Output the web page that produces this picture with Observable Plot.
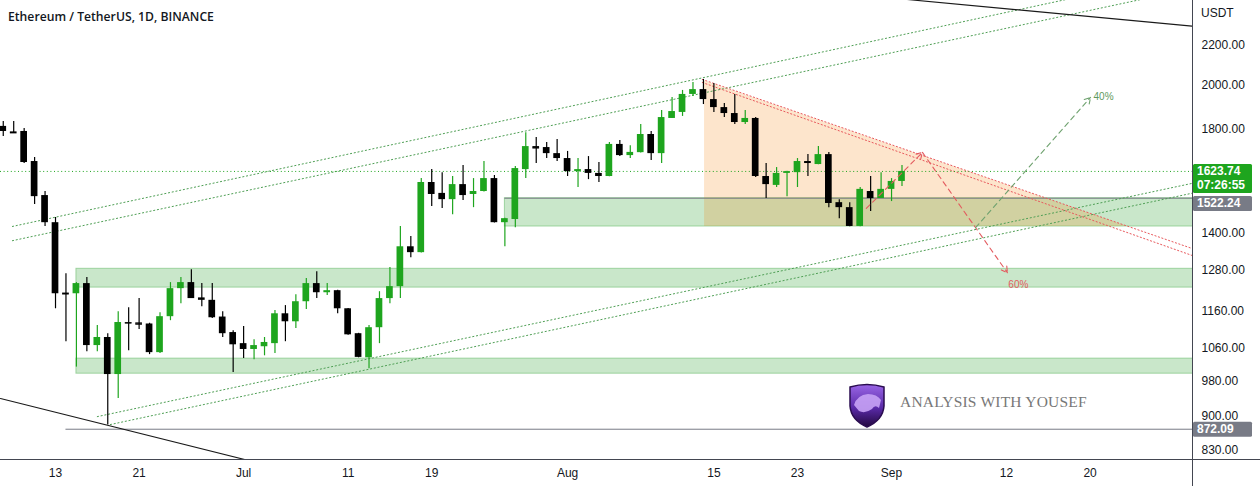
<!DOCTYPE html>
<html><head><meta charset="utf-8">
<script src="https://cdn.jsdelivr.net/npm/d3@7"></script>
<script src="https://cdn.jsdelivr.net/npm/@observablehq/plot@0.6"></script>
<style>
body{margin:0;background:#fff;}
#wrap{position:relative;width:1260px;height:486px;overflow:hidden;}
#title{position:absolute;left:8px;top:8px;font:600 12.2px "Open Sans",sans-serif;color:#131722;white-space:nowrap;}
#unit{position:absolute;left:1201px;top:6px;font:12px "Liberation Sans",Arial,sans-serif;color:#131722;}
#logo{position:absolute;left:847px;top:382px;}
#logotext{position:absolute;left:900px;top:393px;font:15.5px "Liberation Serif",serif;color:#777;white-space:nowrap;letter-spacing:0.2px;}
</style></head>
<body><div id="wrap"><div id="chart"></div>
<div id="title">Ethereum / TetherUS, 1D, BINANCE</div>
<div id="unit">USDT</div>
<div id="logo"><svg width="40" height="46" viewBox="0 0 40 46">
<defs><linearGradient id="lg" x1="0" y1="0" x2="0" y2="1"><stop offset="0" stop-color="#9a66e6"/><stop offset="0.55" stop-color="#5a2aa8"/><stop offset="1" stop-color="#22083f"/></linearGradient></defs>
<path d="M3 5 Q20 0 37 5 L37 24 Q36 38 20 45 Q4 38 3 24 Z" fill="url(#lg)" stroke="#2a0c50" stroke-width="1.5"/>
<path d="M7 23 Q10 13 21 12 Q30 12 34 18 L32 26 Q28 22 25 27 Q18 32 12 29 Z" fill="#c7a2f5" opacity="0.9"/>
</svg></div>
<div id="logotext">ANALYSIS WITH YOUSEF</div>
</div>
<script>
// ---- candle data (daily, starting date) ----
const startDate = "2022-06-08";
const opens  = [1810,1786,1788,1663,1532,1435,1211,1209,1239,1067,1088,995,1128,1127,1124,1049,1144,1224,1242,1197,1190,1143,1101,1072,1057,1064,1072,1152,1130,1186,1239,1212,1218,1166,1098,1036,1114,1195,1230,1354,1335,1581,1540,1517,1573,1536,1547,1596,1435,1446,1631,1724,1720,1695,1675,1623,1631,1616,1604,1733,1687,1699,1775,1695,1845,1872,1955,1978,1931,1894,1867,1827,1845,1604,1570,1616,1619,1663,1651,1691,1506,1488,1422,1547,1521,1555,1585];
const highs  = [1831,1831,1801,1679,1547,1453,1269,1242,1257,1120,1098,1158,1169,1195,1126,1155,1242,1257,1281,1239,1239,1158,1106,1117,1082,1088,1161,1175,1206,1254,1275,1239,1219,1167,1099,1120,1215,1288,1422,1388,1596,1631,1619,1604,1647,1596,1663,1608,1450,1643,1783,1762,1741,1754,1704,1675,1683,1659,1741,1749,1728,1818,1788,1881,1941,1974,2012,2027,2007,1913,1955,1881,1849,1655,1639,1624,1675,1691,1724,1700,1517,1506,1562,1604,1619,1596,1647];
const lows   = [1766,1779,1655,1499,1422,1166,1077,1013,1051,1051,881,939,1054,1109,1044,1047,1133,1180,1195,1172,1139,1088,1000,1034,1031,1041,1047,1077,1112,1164,1195,1204,1152,1094,1036,1009,1072,1180,1195,1319,1334,1492,1485,1463,1514,1488,1545,1434,1354,1418,1596,1655,1675,1663,1604,1562,1592,1581,1603,1683,1675,1698,1667,1655,1845,1854,1945,1908,1872,1849,1818,1818,1600,1521,1562,1528,1562,1604,1650,1488,1449,1421,1421,1474,1521,1510,1566];
const closes = [1788,1783,1659,1528,1435,1209,1209,1239,1067,1088,995,1128,1127,1124,1049,1144,1224,1242,1195,1190,1141,1098,1069,1057,1067,1075,1152,1130,1186,1239,1212,1218,1166,1095,1037,1114,1195,1230,1354,1335,1581,1536,1517,1573,1532,1547,1596,1435,1449,1635,1724,1719,1695,1675,1623,1631,1616,1604,1733,1687,1700,1775,1695,1849,1876,1955,1978,1931,1894,1867,1827,1845,1604,1573,1616,1623,1663,1655,1691,1503,1488,1422,1555,1521,1555,1585,1623.74];

// ---- axes ----
const xTickDates  = ["2022-06-13","2022-06-21","2022-07-01","2022-07-11","2022-07-19","2022-08-01","2022-08-15","2022-08-23","2022-09-01","2022-09-12","2022-09-20"];
const xTickLabels = ["13","21","Jul","11","19","Aug","15","23","Sep","12","20"];
const yTicks = [2200,2000,1800,1400,1280,1160,1060,980,900,830];
const xDomain = ["2022-06-07T17:40","2022-09-29T19:10"];
const yDomain = [810.7, 2452];

// ---- drawings ----
const zoneStarts = ["2022-07-26","2022-06-15","2022-06-15"];
const zoneLows   = [1421.7, 1227, 997];
const zoneHighs  = [1522.24, 1284, 1034];
const zoneEnd = "2022-10-15";

const lastPrice = 1623.74, zoneTopPrice = 1522.24, lowLinePrice = 872.09;
const lowLineStart = "2022-06-14";

const channelNames  = ["A","A","B","B","C","C","D","D"];
const channelDates  = ["2022-06-08T21:00","2022-09-26","2022-06-08T21:00","2022-09-26","2022-06-17","2022-09-29T19:10","2022-06-18T06:00","2022-09-29T19:10"];
const channelPrices = [1422,2571,1374,2473,899,1578,882,1541];

const blackNames  = ["L","L","R","R"];
const blackDates  = ["2022-06-07T17:40","2022-07-03","2022-09-02","2022-09-29T19:10"];
const blackPrices = [939,801,2461,2305];

const redNames  = ["U","U","D","D"];
const redDates  = ["2022-08-13T21:30","2022-09-29T19:10","2022-08-13T21:30","2022-09-29T19:10"];
const redPrices = [2027,1348,2012,1325.5];

const triDates  = ["2022-08-14T02:30","2022-09-23T14:30"];
const triTops   = [2020,1421.7];
const triBottom = 1421.7;

const redPathDates  = ["2022-08-29T14:00","2022-09-03T23:00","2022-09-12T02:00"];
const redPathPrices = [1485,1700,1272];
const greenPathDates  = ["2022-09-09T01:00","2022-09-20T01:00"];
const greenPathPrices = [1418,1941];

// ---- build ----
const DAY = 864e5;
const D = s => new Date(s.length === 10 ? s + "T00:00Z" : s + "Z");
const t0 = D(startDate).getTime();
const GREEN = "#1ea51e", BLACK = "#000";
const candles = opens.map((o, i) => ({
  date: new Date(t0 + i*DAY), x1: new Date(t0 + i*DAY - 0.32*DAY), x2: new Date(t0 + i*DAY + 0.32*DAY),
  o, h: highs[i], l: lows[i], c: closes[i], col: closes[i] >= o ? GREEN : BLACK
}));
const doji = candles.filter(d => Math.abs(Math.log(d.o/d.c)) < 0.003);
const zones = zoneStarts.map((s, i) => ({x1: D(s), x2: D(zoneEnd), y1: zoneLows[i], y2: zoneHighs[i]}));
const pts = (names, dates, prices) => names.map((n, i) => ({n, x: D(dates[i]), y: prices[i]}));
const channel = pts(channelNames, channelDates, channelPrices);
const blacks = pts(blackNames, blackDates, blackPrices);
const reds = pts(redNames, redDates, redPrices);
const tri = triDates.map((s, i) => ({x: D(s), y1: triBottom, y2: triTops[i]}));
const segs = (dates, prices) => dates.slice(1).map((s, i) => ({x1: D(dates[i]), y1: prices[i], x2: D(s), y2: prices[i+1]}));
const redSegs = segs(redPathDates, redPathPrices);
const greenSegs = segs(greenPathDates, greenPathPrices);
const labelMap = new Map(xTickDates.map((s, i) => [D(s).getTime(), xTickLabels[i]]));

const chart = Plot.plot({
  width: 1260, height: 486,
  marginTop: 0, marginBottom: 27, marginLeft: 0, marginRight: 68,
  style: {fontFamily: '"Liberation Sans", Arial, sans-serif', fontSize: "12px", color: "#131722", background: "#fff"},
  x: {type: "utc", domain: xDomain.map(D), axis: null},
  y: {type: "log", domain: yDomain, axis: null},
  marks: [
    Plot.rect(zones, {x1: "x1", x2: "x2", y1: "y1", y2: "y2", fill: "#4caf50", fillOpacity: 0.3, stroke: "#4caf50", strokeOpacity: 0.45, clip: true}),
    Plot.areaY(tri, {x: "x", y1: "y1", y2: "y2", fill: "#f57c00", fillOpacity: 0.2, curve: "linear"}),
    Plot.ruleY([zoneTopPrice], {x1: D(zoneStarts[0]), x2: D(zoneEnd), stroke: "#787b86", strokeWidth: 1, clip: true}),
    Plot.ruleY([lowLinePrice], {x1: D(lowLineStart), x2: D(zoneEnd), stroke: "#787b86", strokeWidth: 1, clip: true}),
    Plot.line(channel, {x: "x", y: "y", z: "n", stroke: "#4f9f55", strokeWidth: 1, strokeDasharray: "1.2,2.6", clip: true}),
    Plot.line(reds, {x: "x", y: "y", z: "n", stroke: "#e8585c", strokeWidth: 1, strokeDasharray: "1.2,2.4", clip: true}),
    Plot.line(blacks, {x: "x", y: "y", z: "n", stroke: "#1a1a1a", strokeWidth: 1.1, clip: true}),
    Plot.ruleY([lastPrice], {stroke: GREEN, strokeWidth: 1, strokeDasharray: "1,2.6"}),
    Plot.ruleX(candles, {x: "date", y1: "l", y2: "h", stroke: "col", strokeWidth: 1.2}),
    Plot.rect(candles, {x1: "x1", x2: "x2", y1: d => Math.min(d.o, d.c), y2: d => Math.max(d.o, d.c), fill: "col"}),
    Plot.ruleY(doji, {x1: "x1", x2: "x2", y: "c", stroke: "col", strokeWidth: 1.5}),
    Plot.arrow(redSegs, {x1: "x1", y1: "y1", x2: "x2", y2: "y2", stroke: "#e35b5f", strokeWidth: 1.1, strokeDasharray: "5,4", headLength: 9}),
    Plot.arrow(greenSegs, {x1: "x1", y1: "y1", x2: "x2", y2: "y2", stroke: "#6fa26f", strokeWidth: 1.1, strokeDasharray: "5,4", headLength: 9}),
    Plot.text(greenSegs, {x: "x2", y: "y2", text: () => "40%", dx: 3, dy: -1, textAnchor: "start", fill: "#5e9a5e", fontSize: 10}),
    Plot.text(redSegs.slice(-1), {x: "x2", y: "y2", text: () => "60%", dx: 11, dy: 12, fill: "#e35b5f", fontSize: 10}),
    Plot.axisX(xTickDates.map(D), {tickSize: 0, tickPadding: 9, tickFormat: d => labelMap.get(d.getTime()), fill: "#131722", fontSize: 12}),
    Plot.axisY(yTicks, {anchor: "right", tickSize: 0, tickPadding: 9, tickFormat: d => d.toFixed(2), fill: "#131722", fontSize: 12})
  ]
});
document.getElementById("chart").appendChild(chart);

// frame lines & price tags positioned via scales
const svg = d3.select(chart);
const ys = chart.scale("y");
const axisX = 1192.5, axisY = 459.5;
svg.append("line").attr("x1", 0).attr("x2", 1260).attr("y1", axisY).attr("y2", axisY).attr("stroke", "#434651");
svg.append("line").attr("x1", axisX).attr("x2", axisX).attr("y1", 0).attr("y2", 486).attr("stroke", "#434651");
const tags = [
  {v: lastPrice, lines: [lastPrice.toFixed(2), "07:26:55"], fill: GREEN},
  {v: zoneTopPrice, lines: [zoneTopPrice.toFixed(2)], fill: "#787b86"},
  {v: lowLinePrice, lines: [lowLinePrice.toFixed(2)], fill: "#787b86"}
];
let prevBottom = -1e9;
for (const t of tags) {
  const h = 14 * t.lines.length + 1;
  let top = ys.apply(t.v) - 7;
  if (top < prevBottom + 3) top = prevBottom + 3;
  prevBottom = top + h;
  const g = svg.append("g").attr("text-anchor", "start");
  g.append("rect").attr("x", 1193).attr("y", top).attr("width", 59).attr("height", h).attr("rx", 1.5).attr("fill", t.fill);
  t.lines.forEach((s, i) => g.append("text").attr("x", 1197).attr("y", top + 11 + i*14).attr("text-anchor", "start")
    .attr("fill", "#fff").attr("font-size", 12).attr("font-weight", 600).attr("font-family", '"Liberation Sans", Arial, sans-serif').text(s));
}
</script>
</body></html>
